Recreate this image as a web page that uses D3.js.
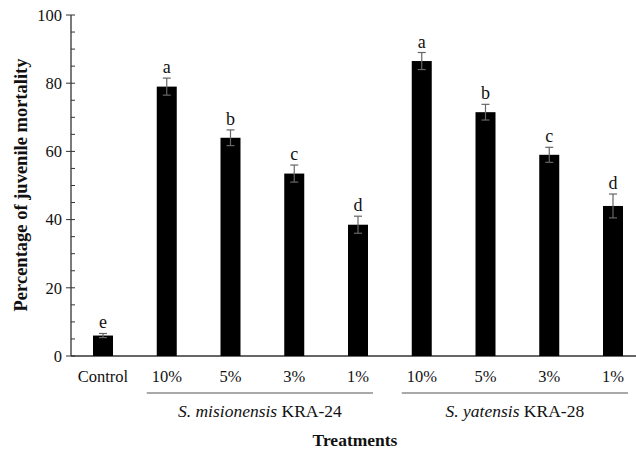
<!DOCTYPE html>
<html><head><meta charset="utf-8">
<script src="https://cdn.jsdelivr.net/npm/d3@7/dist/d3.min.js"></script>
<style>body{margin:0;background:#fff}svg{display:block}</style>
</head><body>
<script>
const categories = ["Control","10%","5%","3%","1%","10% ","5% ","3% ","1% "];
const tickLabels = ["Control","10%","5%","3%","1%","10%","5%","3%","1%"];
const values = [6, 79, 64, 53.5, 38.5, 86.5, 71.5, 59, 44];
const errors = [0.6, 2.5, 2.3, 2.5, 2.5, 2.5, 2.3, 2.2, 3.5];
const letters = ["e","a","b","c","d","a","b","c","d"];
const groupNames = ["S. misionensis", "S. yatensis"];
const groupSuffix = [" KRA-24", " KRA-28"];
const groupMembers = [[1,4],[5,8]];
const yTicks = [0,20,40,60,80,100];

const W=636, H=454;
const svg = d3.select("body").append("svg").attr("width",W).attr("height",H);
const font = "'Liberation Serif','Times New Roman',serif";
const x0=71, x1=636, yTop=15, yBot=356;
const x = d3.scalePoint().domain(categories).range([103, 613]);
const y = d3.scaleLinear().domain([0,100]).range([yBot, yTop]);
const bw = 20;

// y axis
const g = svg.append("g");
g.append("line").attr("x1",x0).attr("x2",x0).attr("y1",y(100)).attr("y2",y(0)).attr("stroke","#333").attr("stroke-width",1.3);
g.append("line").attr("x1",x0).attr("x2",x1).attr("y1",y(0)).attr("y2",y(0)).attr("stroke","#333").attr("stroke-width",1.3);
d3.range(0,101,5).forEach(v=>{
  const major = v%20===0;
  g.append("line").attr("x1", major? x0-5 : x0).attr("x2", x0+4).attr("y1",y(v)).attr("y2",y(v)).attr("stroke","#333").attr("stroke-width",1);
});
g.selectAll("text.yt").data(yTicks).enter().append("text")
  .attr("x",x0-9).attr("y",d=>y(d)).attr("dy","0.35em").attr("text-anchor","end")
  .style("font-family",font).style("font-size","16.5px").attr("fill","#111").text(d=>d);

// bars
svg.selectAll("rect.bar").data(values).enter().append("rect")
  .attr("x",(d,i)=>x(categories[i])-bw/2).attr("width",bw)
  .attr("y",d=>y(d)).attr("height",d=>y(0)-y(d)).attr("fill","#000");

// error bars
const eg = svg.append("g").attr("stroke","#666").attr("stroke-width",1.2);
values.forEach((v,i)=>{
  const cx = x(categories[i]);
  eg.append("line").attr("x1",cx).attr("x2",cx).attr("y1",y(v+errors[i])).attr("y2",y(v-errors[i]));
  eg.append("line").attr("x1",cx-4).attr("x2",cx+4).attr("y1",y(v+errors[i])).attr("y2",y(v+errors[i]));
  eg.append("line").attr("x1",cx-4).attr("x2",cx+4).attr("y1",y(v-errors[i])).attr("y2",y(v-errors[i]));
});

// letters
svg.selectAll("text.let").data(letters).enter().append("text")
  .attr("x",(d,i)=>x(categories[i])).attr("y",(d,i)=>y(values[i]+errors[i])-5)
  .attr("text-anchor","middle").style("font-family",font).style("font-size","18px").attr("fill","#111").text(d=>d);

// x tick labels
svg.selectAll("text.xt").data(tickLabels).enter().append("text")
  .attr("x",(d,i)=>x(categories[i])).attr("y",382)
  .attr("text-anchor","middle").style("font-family",font).style("font-size","16.5px").attr("fill","#111").text(d=>d);

// group lines and labels
groupMembers.forEach((m,gi)=>{
  const a = x(categories[m[0]])-20, b = x(categories[m[1]])+15;
  svg.append("line").attr("x1",a).attr("x2",b).attr("y1",393).attr("y2",393).attr("stroke","#555").attr("stroke-width",1.2);
  const t = svg.append("text").attr("x",(a+b)/2).attr("y",417).attr("text-anchor","middle")
    .style("font-family",font).style("font-size","17.5px").attr("fill","#111");
  t.append("tspan").style("font-style","italic").text(groupNames[gi]);
  t.append("tspan").text(groupSuffix[gi]);
});

// axis titles
svg.append("text").attr("x",355).attr("y",446).attr("text-anchor","middle")
  .style("font-family",font).style("font-size","17.5px").style("font-weight","bold").attr("fill","#111").text("Treatments");
svg.append("text").attr("transform","translate(27,185) rotate(-90)").attr("text-anchor","middle")
  .style("font-family",font).style("font-size","18.5px").style("font-weight","bold").attr("fill","#111").text("Percentage of juvenile mortality");
</script>
</body></html>
